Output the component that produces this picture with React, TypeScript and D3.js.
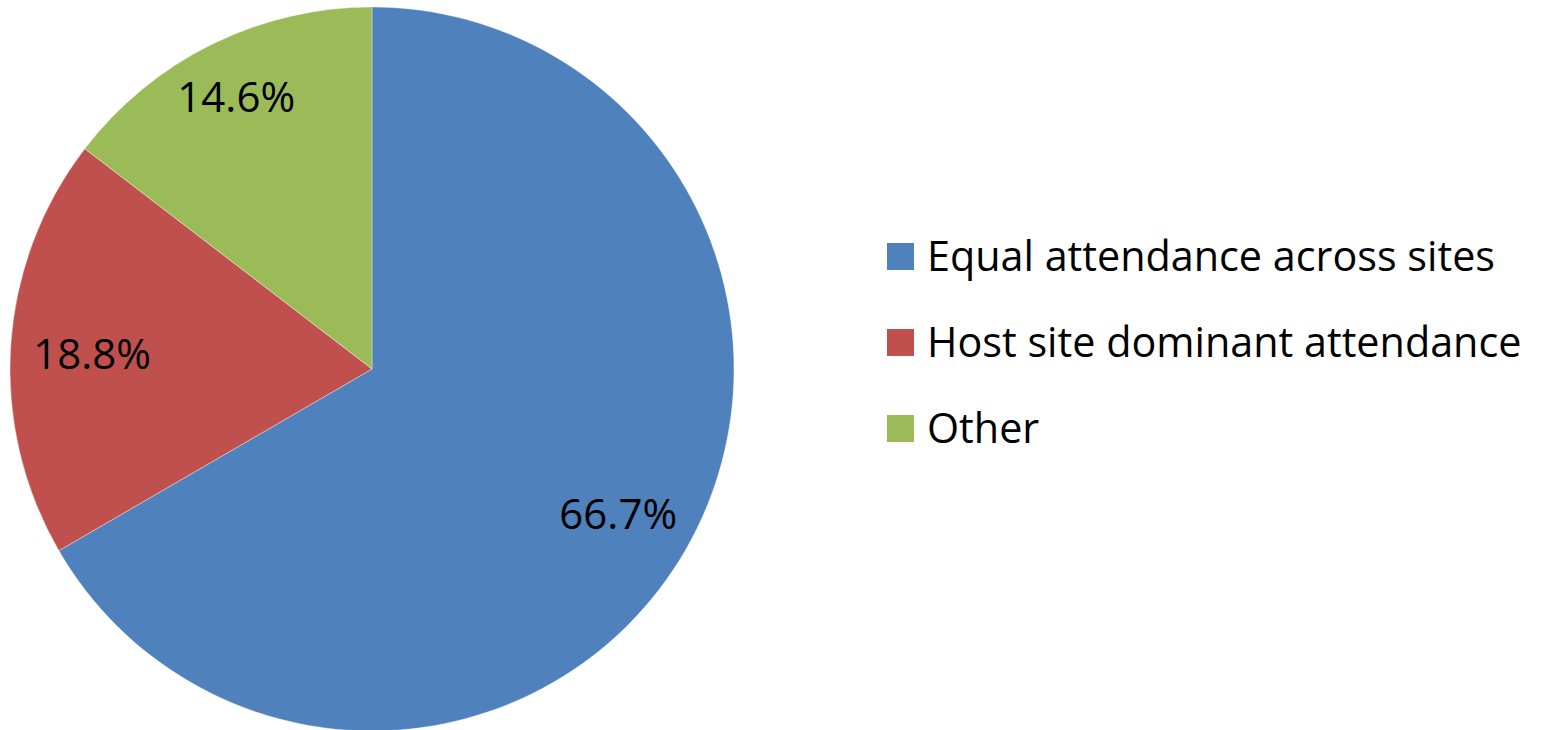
import React from "react";
import * as d3 from "d3";

const categories = ["Equal attendance across sites", "Host site dominant attendance", "Other"];
const values = [66.7, 18.8, 14.6];
const labels = ["66.7%", "18.8%", "14.6%"];
const colors = ["#4F81BD", "#C0504D", "#9BBB59"];

const W = 1541;
const H = 730;
const cx = 372;
const cy = 369;
const R = 362;
const FONT = "'Open Sans', 'Noto Sans', sans-serif";
// label distance from centre as a fraction of the radius (best-fit placement)
const labelRadiusFactor = [0.785, 0.775, 0.848];

export default function App() {
  const pie = d3.pie<number>().sort(null).value((d) => d)(values);
  const arc = d3.arc<d3.PieArcDatum<number>>().innerRadius(0).outerRadius(R);
  const legendY = d3.scalePoint<number>().domain(d3.range(categories.length)).range([256.5, 428.5]);

  return (
    <svg width={W} height={H} style={{ position: "absolute", left: 0, top: 0, background: "#fff" }}>
      <g transform={`translate(${cx},${cy})`}>
        {pie.map((p, i) => (
          <path key={i} d={arc(p) || ""} fill={colors[i]} stroke="#ffffff" strokeWidth={0.6} strokeOpacity={0.6} />
        ))}
        {pie.map((p, i) => {
          const rr = R * labelRadiusFactor[i];
          const [x, y] = d3.arc<d3.PieArcDatum<number>>().innerRadius(rr).outerRadius(rr).centroid(p);
          return (
            <text key={i} x={x} y={y + 2} textAnchor="middle" dominantBaseline="central"
              fontFamily={FONT} fontSize={42} fill="#000">
              {labels[i]}
            </text>
          );
        })}
      </g>
      {categories.map((c, i) => (
        <g key={c} transform={`translate(887,${legendY(i)})`}>
          <rect x={0} y={-13.5} width={27} height={27} fill={colors[i]} />
          <text x={40} y={-2} dominantBaseline="central" fontFamily={FONT} fontSize={41.3} fill="#000">
            {c}
          </text>
        </g>
      ))}
    </svg>
  );
}
